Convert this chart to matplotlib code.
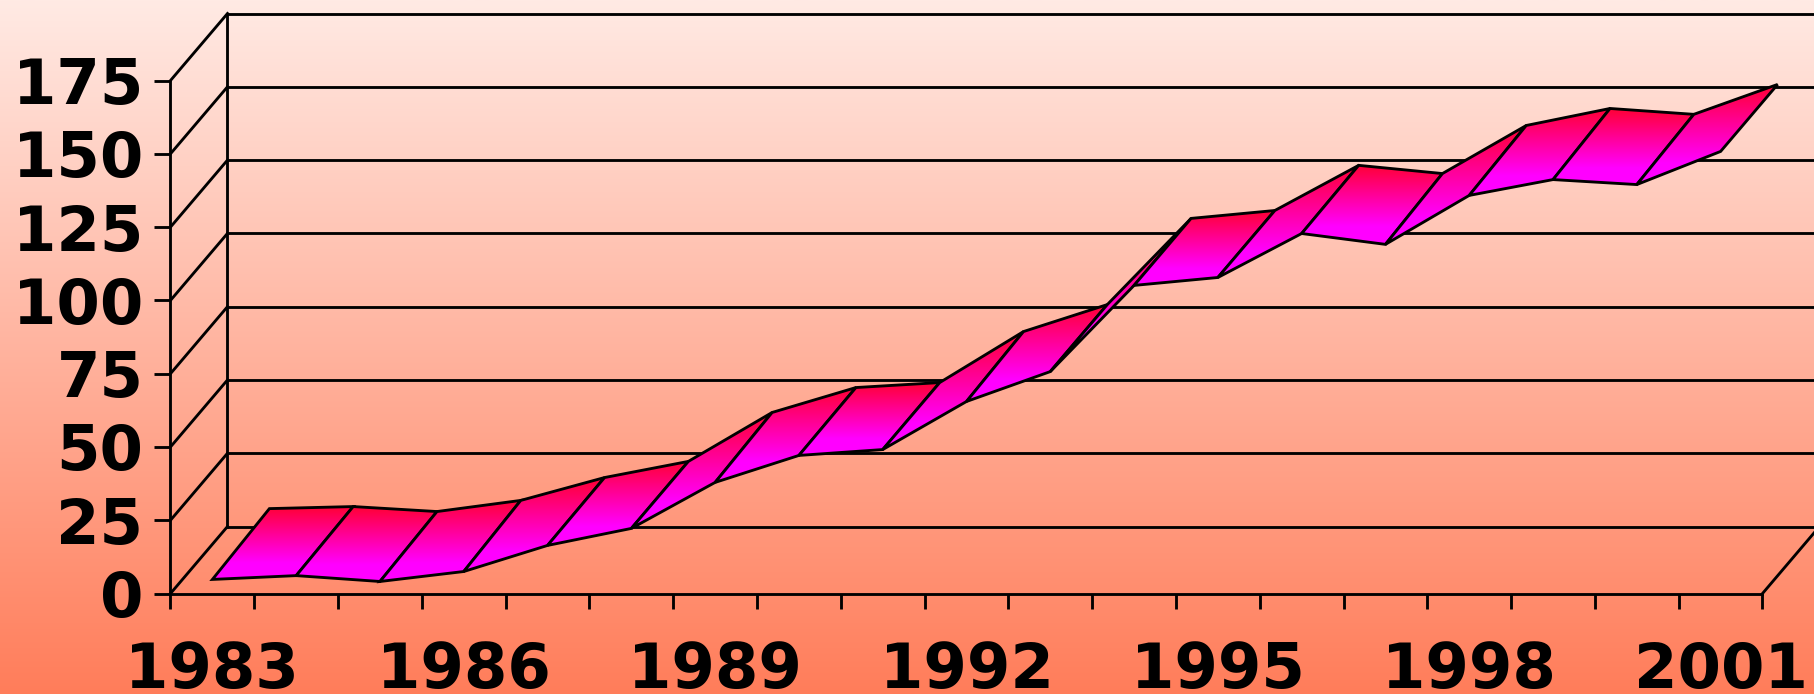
import numpy as np
import matplotlib
matplotlib.use("Agg")
import matplotlib.pyplot as plt
from matplotlib.patches import Polygon
from matplotlib.colors import LinearSegmentedColormap

years = list(range(1983, 2002))
front_values = [4.8, 6.1, 4.1, 7.5, 16.4, 22.2, 37.9, 47.1, 49.1, 65.5,
                75.7, 105.1, 107.8, 122.8, 119.1, 135.8, 141.2, 139.5, 150.8]
back_values = [6.1, 6.8, 5.1, 8.9, 16.7, 22.2, 38.9, 47.4, 49.1, 66.5,
               75.7, 105.1, 107.8, 123.2, 120.4, 136.8, 142.6, 140.6, 150.8]
y_ticks = [0, 25, 50, 75, 100, 125, 150, 175]

W, H = 1815, 694
X0, X1, Y0, Y1 = 170.5, 1762.5, 593.5, 80.5
DEPTH_X = 57 / ((X1 - X0) / 19)
DEPTH_Y = 67 / ((Y0 - Y1) / 175)
LW = 2.05

fig = plt.figure(figsize=(W / 100, H / 100), dpi=100)

bg_cmap = LinearSegmentedColormap.from_list("bg", ["#FFEAE4", "#FF7D5A"])
bg = fig.add_axes([0, 0, 1, 1], zorder=0)
bg.imshow(np.linspace(0, 1, 256)[:, None], cmap=bg_cmap, aspect="auto")
bg.axis("off")

ax = fig.add_axes([X0 / W, 1 - Y0 / H, (X1 - X0) / W, (Y0 - Y1) / H], zorder=1)
ax.patch.set_alpha(0)

line = dict(color="black", lw=LW, clip_on=False, solid_capstyle="projecting")

# Back wall, floor, side wall
far = 19 + DEPTH_X + 1
for v in y_ticks:
    ax.plot([0, DEPTH_X], [v, v + DEPTH_Y], **line, zorder=2)
    ax.plot([DEPTH_X, far], [v + DEPTH_Y, v + DEPTH_Y], **line, zorder=2)
ax.plot([DEPTH_X, DEPTH_X], [DEPTH_Y, 175 + DEPTH_Y], **line, zorder=2)
ax.plot([19, 19 + DEPTH_X], [0, DEPTH_Y], **line, zorder=2)

# Ribbon
rib_cmap = LinearSegmentedColormap.from_list(
    "rib", [(0, "#FF0033"), (0.78, "#FF00FF"), (1, "#FF00FF")])
grad = np.linspace(0, 1, 256)[:, None]
for i in range(len(years) - 1):
    pts = [(i + 0.5, front_values[i]),
           (i + 1.5, front_values[i + 1]),
           (i + 1.5 + DEPTH_X, back_values[i + 1] + DEPTH_Y),
           (i + 0.5 + DEPTH_X, back_values[i] + DEPTH_Y)]
    z = 3 + i * 0.01
    poly = Polygon(pts, closed=True, facecolor="none", edgecolor="black",
                   lw=LW, joinstyle="miter", clip_on=False, zorder=z + 0.005)
    ax.add_patch(poly)
    xs, ys = zip(*pts)
    im = ax.imshow(grad, cmap=rib_cmap, aspect="auto", origin="upper",
                   extent=(min(xs), max(xs), min(ys), max(ys)), zorder=z)
    im.set_clip_path(poly)
    im.set_clip_box(fig.bbox)

ax.set_xlim(0, 19)
ax.set_ylim(0, 175)

for s in ("top", "right"):
    ax.spines[s].set_visible(False)
for s in ("left", "bottom"):
    ax.spines[s].set_linewidth(LW)
    ax.spines[s].set_zorder(2.5)

font = dict(family="DejaVu Sans", fontweight="bold", fontsize=45)
ax.set_yticks(y_ticks)
ax.set_yticklabels([str(v) for v in y_ticks], **font)
ax.tick_params(axis="y", length=11.5, width=LW, pad=8, color="black")

ax.set_xticks(range(20))
ax.set_xticklabels([])
ax.tick_params(axis="x", which="major", length=10.8, width=LW)
label_years = years[::3]
ax.set_xticks([years.index(y) + 0.5 for y in label_years], minor=True)
ax.set_xticklabels([str(y) for y in label_years], minor=True, **font)
ax.tick_params(axis="x", which="minor", length=0, pad=34)

fig.savefig("out.png", dpi=100)
